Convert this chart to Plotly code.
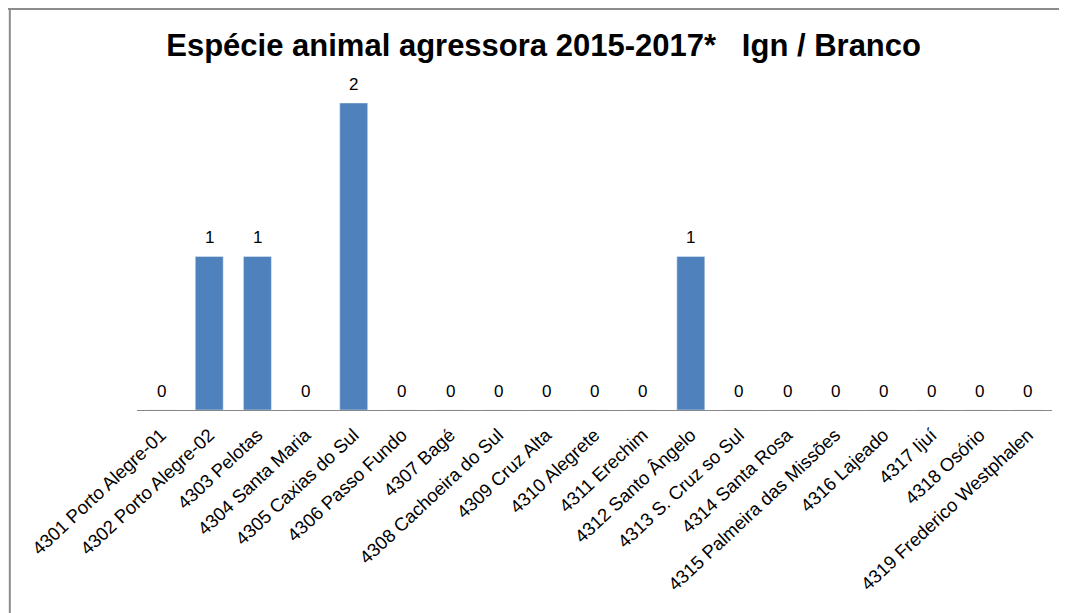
import plotly.graph_objects as go

categories = ["4301 Porto Alegre-01", "4302 Porto Alegre-02", "4303 Pelotas", "4304 Santa Maria",
              "4305 Caxias do Sul", "4306 Passo Fundo", "4307 Bagé", "4308 Cachoeira do Sul",
              "4309 Cruz Alta", "4310 Alegrete", "4311 Erechim", "4312 Santo Ângelo",
              "4313 S. Cruz so Sul", "4314 Santa Rosa", "4315 Palmeira das Missões",
              "4316 Lajeado", "4317 Ijuí", "4318 Osório", "4319 Frederico Westphalen"]
values = [0, 1, 1, 0, 2, 0, 0, 0, 0, 0, 0, 1, 0, 0, 0, 0, 0, 0, 0]
title = "Espécie animal agressora 2015-2017*   Ign / Branco"

font = "Liberation Sans"
fig = go.Figure(go.Bar(
    x=categories, y=values, marker_color="#4F81BD", width=0.58,
))

for c, v in zip(categories, values):
    fig.add_annotation(x=c, y=v, text=str(v), showarrow=False, yanchor="middle",
                       yshift=19, font=dict(family=font, size=17, color="black"))

fig.update_layout(
    width=1067, height=613,
    margin=dict(l=129, r=23, t=95, b=211, autoexpand=False),
    paper_bgcolor="white", plot_bgcolor="white",
    showlegend=False,
    title=dict(text="<b>" + title + "</b>", x=0.502, xanchor="center", y=0.94, yanchor="middle",
               font=dict(family=font, size=31, color="black")),
    xaxis=dict(tickangle=-43, tickfont=dict(family=font, size=18.5, color="black"), automargin=False,
               ticklabelstandoff=6,
               showline=True, linecolor="#888888", linewidth=1, ticks="", showgrid=False),
    yaxis=dict(range=[0, 2], visible=False, showgrid=False, automargin=False),
    shapes=[
        dict(type="line", xref="paper", yref="paper", x0=-0.141, x1=1.03, y0=1.306, y1=1.306,
             line=dict(color="#8c8c8c", width=2)),
        dict(type="line", xref="paper", yref="paper", x0=-0.139, x1=-0.139, y0=1.306, y1=-0.7,
             line=dict(color="#8c8c8c", width=2)),
    ],
)

fig.write_html("out.html")
